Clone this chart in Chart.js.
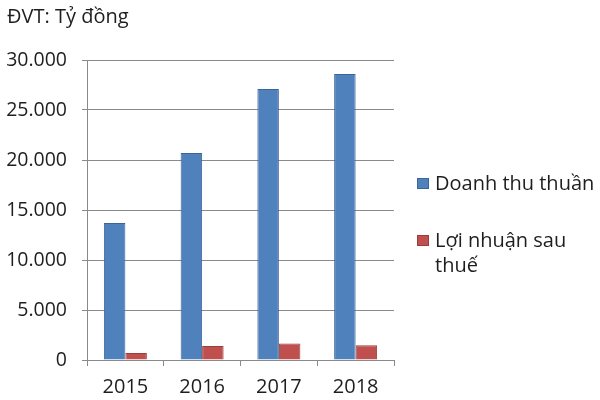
<!DOCTYPE html>
<html>
<head>
<meta charset="utf-8">
<script src="https://cdn.jsdelivr.net/npm/chart.js@4/dist/chart.umd.min.js"></script>
<style>
  html, body { margin: 0; padding: 0; background: #fff; }
  #box { width: 600px; height: 400px; }
</style>
</head>
<body>
<div id="box"><canvas id="grafico"></canvas></div>
<script>
const anos = ['2015', '2016', '2017', '2018'];
const doanhThu = [13700, 20700, 27100, 28600];
const loiNhuan = [700, 1400, 1650, 1470];
const tituloUnidade = 'ĐVT: Tỷ đồng';
const nomesSeries = ['Doanh thu thuần', 'Lợi nhuận sau thuế'];

const fonte = '"Open Sans", "Noto Sans", sans-serif';
const corTexto = '#1e1e1e';
const corGrade = '#8a8a8a';

function formatarVN(v) {
  return String(v).replace(/\B(?=(\d{3})+(?!\d))/g, '.');
}

// legenda desenhada à direita, com quebra de linha como no original
const legendaLateral = {
  id: 'legendaLateral',
  afterDraw(chart) {
    const ctx = chart.ctx;
    const x0 = 417;
    const larguraMax = 166;
    const centros = [183, 240];
    ctx.save();
    ctx.font = '20px ' + fonte;
    ctx.textBaseline = 'middle';
    chart.data.datasets.forEach((ds, i) => {
      const palavras = ds.label.split(' ');
      const linhas = [];
      let atual = '';
      palavras.forEach(p => {
        const teste = atual ? atual + ' ' + p : p;
        if (ctx.measureText(teste).width > larguraMax && atual) {
          linhas.push(atual);
          atual = p;
        } else {
          atual = teste;
        }
      });
      linhas.push(atual);
      const y = centros[i];
      ctx.fillStyle = ds.backgroundColor;
      ctx.fillRect(x0, y - 5, 12, 11);
      ctx.strokeStyle = ds.borderColor;
      ctx.lineWidth = 1;
      ctx.strokeRect(x0 + 0.5, y - 4.5, 11, 10);
      ctx.fillStyle = corTexto;
      linhas.forEach((l, k) => ctx.fillText(l, x0 + 18, y + 1 + k * 25));
    });
    ctx.restore();
  }
};

new Chart(document.getElementById('grafico'), {
  type: 'bar',
  data: {
    labels: anos,
    datasets: [
      {
        label: nomesSeries[0],
        data: doanhThu,
        backgroundColor: '#4f81bd',
        borderColor: '#3b6597',
        borderWidth: 1,
        categoryPercentage: 0.56,
        barPercentage: 1
      },
      {
        label: nomesSeries[1],
        data: loiNhuan,
        backgroundColor: '#c0504d',
        borderColor: '#973f3d',
        borderWidth: 1,
        categoryPercentage: 0.56,
        barPercentage: 1
      }
    ]
  },
  options: {
    responsive: true,
    maintainAspectRatio: false,
    animation: false,
    layout: { padding: { left: 7, right: 206, top: 0, bottom: 0 } },
    plugins: {
      legend: { display: false },
      tooltip: { enabled: false },
      title: {
        display: true,
        text: tituloUnidade,
        align: 'start',
        color: corTexto,
        font: { family: fonte, size: 20, weight: 'normal' },
        padding: { top: 5, bottom: 31 }
      }
    },
    scales: {
      x: {
        grid: {
          display: true,
          offset: true,
          drawOnChartArea: false,
          color: corGrade,
          tickLength: 6
        },
        border: { color: corGrade },
        ticks: { color: corTexto, padding: 9, font: { family: fonte, size: 20 } },
        afterFit: s => { s.height = 40; }
      },
      y: {
        min: 0,
        max: 30000,
        grid: { color: corGrade, tickLength: 5 },
        border: { color: corGrade },
        ticks: {
          stepSize: 5000,
          color: corTexto,
          padding: 15,
          font: { family: fonte, size: 19.5 },
          callback: v => formatarVN(v)
        },
        afterFit: s => { s.width = 80; }
      }
    }
  },
  plugins: [legendaLateral]
});
</script>
</body>
</html>
